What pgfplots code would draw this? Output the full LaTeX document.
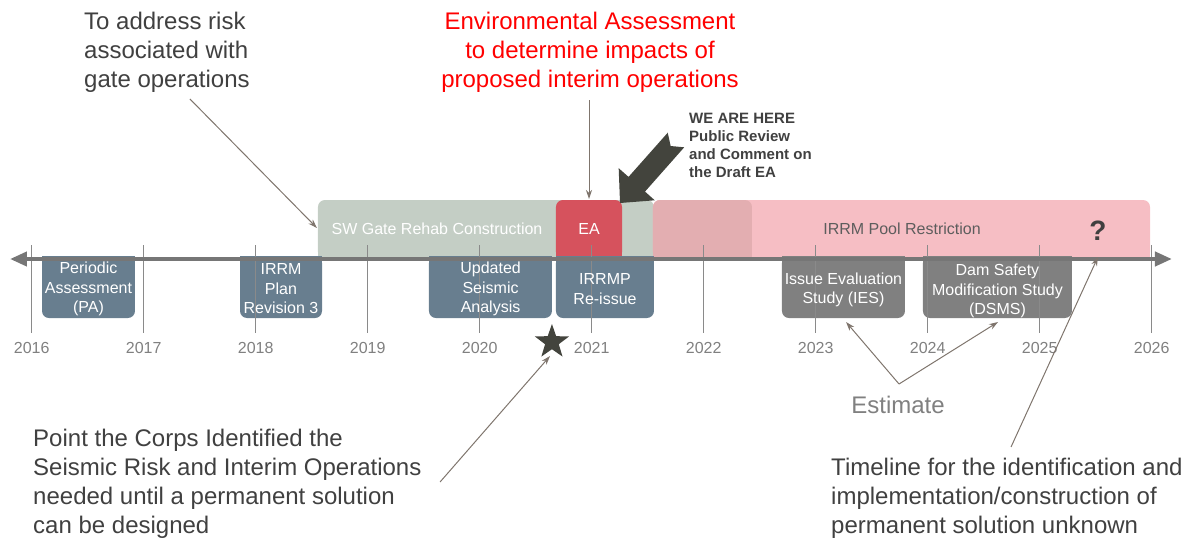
\documentclass[border=0pt]{standalone}
\usepackage{fontspec}
\setmainfont{Liberation Sans}
\usepackage{pgfplots}
\pgfplotsset{compat=1.18}
\usetikzlibrary{arrows.meta,shapes.geometric}

\definecolor{sage}{HTML}{C4CEC5}
\definecolor{eared}{HTML}{D6525D}
\definecolor{pinkbar}{HTML}{F6BEC4}
\definecolor{pinkdark}{HTML}{E3AEB1}
\definecolor{slate}{HTML}{687E8F}
\definecolor{boxgrey}{HTML}{808080}
\definecolor{axgrey}{HTML}{767676}
\definecolor{tickgrey}{HTML}{8A8A8A}
\definecolor{annot}{HTML}{7F756D}
\definecolor{darkarrow}{HTML}{43443D}
\definecolor{txtdark}{HTML}{404040}

\newcommand\fs[2]{\fontsize{#1}{#2}\selectfont}
\pgfdeclareplotmark{fstar}{\node[star,star points=5,star point ratio=2.5,fill=darkarrow,draw=none,inner sep=0pt,minimum size=36pt]{};}

\begin{document}
\begin{tikzpicture}
\begin{axis}[
  scale only axis,
  width=1192pt, height=537pt,
  xmin=2015.717, xmax=2026.36,
  ymin=0, ymax=537,
  y dir=reverse,
  hide axis,
  clip=false,
]
% frame for the bounding box
\addplot[draw=none] coordinates {(2015.717,0)(2026.36,537)};

% upper bars (y in pixels, top 200 -> axis 259)
\addplot[fill=sage, draw=none, rounded corners=7pt] coordinates {(2018.556,259)(2018.556,200)(2021.556,200)(2021.556,259)} -- cycle;
\addplot[fill=sage, draw=none] coordinates {(2018.556,259)(2018.556,230)(2021.556,230)(2021.556,259)} -- cycle;
\addplot[fill=pinkbar, draw=none, rounded corners=7pt] coordinates {(2021.547,259)(2021.547,200)(2025.985,200)(2025.985,259)} -- cycle;
\addplot[fill=pinkbar, draw=none] coordinates {(2021.547,259)(2021.547,230)(2025.985,230)(2025.985,259)} -- cycle;
\addplot[fill=pinkdark, draw=none, rounded corners=7pt] coordinates {(2021.547,259)(2021.547,200)(2022.431,200)(2022.431,259)} -- cycle;
\addplot[fill=pinkdark, draw=none] coordinates {(2021.547,259)(2021.547,230)(2022.431,230)(2022.431,259)} -- cycle;
\addplot[fill=eared, draw=none, rounded corners=7pt] coordinates {(2020.681,259)(2020.681,200)(2021.271,200)(2021.271,259)} -- cycle;
\addplot[fill=eared, draw=none] coordinates {(2020.681,259)(2020.681,230)(2021.271,230)(2021.271,259)} -- cycle;

% lower boxes (axis 259 -> bottom 318)
\pgfplotsinvokeforeach{{2016.092/2016.922/slate},{2017.860/2018.592/slate},{2019.547/2020.645/slate},{2020.681/2021.556/slate},{2022.699/2023.797/boxgrey},{2023.958/2025.288/boxgrey}}{
  \foreach \a/\b/\c in {#1}{
    \edef\tmp{\noexpand\addplot[fill=\c, draw=none, rounded corners=7pt] coordinates {(\a,256)(\a,318)(\b,318)(\b,256)} -- cycle;
      \noexpand\addplot[fill=\c, draw=none] coordinates {(\a,256)(\a,290)(\b,290)(\b,256)} -- cycle;}
    \global\let\gtmp\tmp
  }
  \gtmp
}

% year lines
\pgfplotsinvokeforeach{2016,2017,...,2026}{
  \addplot[tickgrey, line width=0.9pt] coordinates {(#1,245)(#1,333)};
}

% time axis
\addplot[axgrey, line width=4pt, {Triangle[length=17pt,width=14pt]}-{Triangle[length=17pt,width=14pt]}] coordinates {(2015.806,259)(2026.181,259)};

% year labels
\pgfplotsinvokeforeach{2016,2017,...,2026}{
  \node[text=boxgrey, font=\fs{16}{19}] at (axis cs:#1,348) {#1};
}

% bar labels
\node[text=white, font=\fs{16}{19}] at (axis cs:2019.619,229) {SW Gate Rehab Construction};
\node[text=white, font=\fs{16}{19}] at (axis cs:2020.976,229) {EA};
\node[text=txtdark!85, font=\fs{16}{19}] at (axis cs:2023.771,229) {IRRM Pool Restriction};
\node[text=txtdark, font=\fs{28}{30}\bfseries] at (axis cs:2025.521,231) {?};

\node[text=white, align=center, font=\fs{16}{19.5}] at (axis cs:2016.507,289) {Periodic\\Assessment\\(PA)};
\node[text=white, align=center, font=\fs{16}{19.5}] at (axis cs:2018.226,289) {IRRM\\Plan\\Revision 3};
\node[text=white, align=center, font=\fs{16}{19.5}] at (axis cs:2020.097,289) {Updated\\Seismic\\Analysis};
\node[text=white, align=center, font=\fs{16}{19.5}] at (axis cs:2021.119,289) {IRRMP\\Re-issue};
\node[text=white, align=center, font=\fs{16}{19.5}] at (axis cs:2023.248,290) {Issue Evaluation\\Study (IES)};
\node[text=white, align=center, font=\fs{16}{19.5}] at (axis cs:2024.623,291) {Dam Safety\\Modification Study\\(DSMS)};

% star
\addplot[only marks, mark=fstar] coordinates {(2020.645,342)};

% big arrow
\addplot[fill=darkarrow, draw=none] coordinates {(2021.253,203)(2021.563,200.3)(2021.476,191.6)(2021.826,147.3)(2021.705,146)(2021.679,132.7)(2021.329,176.9)(2021.241,168.2)} -- cycle;

% thin annotation arrows
\addplot[annot, line width=1pt, -{Stealth[length=9pt,width=6pt]}] coordinates {(2017.413,99)(2018.547,228)};
\addplot[annot, line width=1pt, -{Stealth[length=9pt,width=6pt]}] coordinates {(2020.976,100)(2020.976,199)};
\addplot[annot, line width=1pt, -{Stealth[length=9pt,width=6pt]}] coordinates {(2019.646,482)(2020.628,356)};
\addplot[annot, line width=1pt, -{Stealth[length=9pt,width=6pt]}] coordinates {(2023.744,384)(2023.271,322)};
\addplot[annot, line width=1pt, -{Stealth[length=9pt,width=6pt]}] coordinates {(2023.744,384)(2024.628,322)};
\addplot[annot, line width=1pt, -{Stealth[length=9pt,width=6pt]}] coordinates {(2024.744,447)(2025.520,257)};

% texts
\node[anchor=north west, align=left, text=txtdark, font=\fs{24}{29}, inner sep=0pt] at (axis cs:2016.467,11.5) {To address risk\\associated with\\gate operations};
\node[anchor=north, align=center, text=red, font=\fs{24}{29}, inner sep=0pt] at (axis cs:2020.985,11.5) {Environmental Assessment\\to determine impacts of\\proposed interim operations};
\node[anchor=north west, align=left, text=txtdark, font=\fs{15}{18}\bfseries, inner sep=0pt] at (axis cs:2021.869,113) {WE ARE HERE\\Public Review\\and Comment on\\the Draft EA};
\node[text=boxgrey, font=\fs{24}{29}] at (axis cs:2023.735,405) {Estimate};
\node[anchor=north west, align=left, text=txtdark, font=\fs{24}{29}, inner sep=0pt] at (axis cs:2016.012,428.5) {Point the Corps Identified the\\Seismic Risk and Interim Operations\\needed until a permanent solution\\can be designed};
\node[anchor=north west, align=left, text=txtdark, font=\fs{24}{29}, inner sep=0pt] at (axis cs:2023.137,457.5) {Timeline for the identification and\\implementation/construction of\\permanent solution unknown};
\end{axis}
\end{tikzpicture}
\end{document}
